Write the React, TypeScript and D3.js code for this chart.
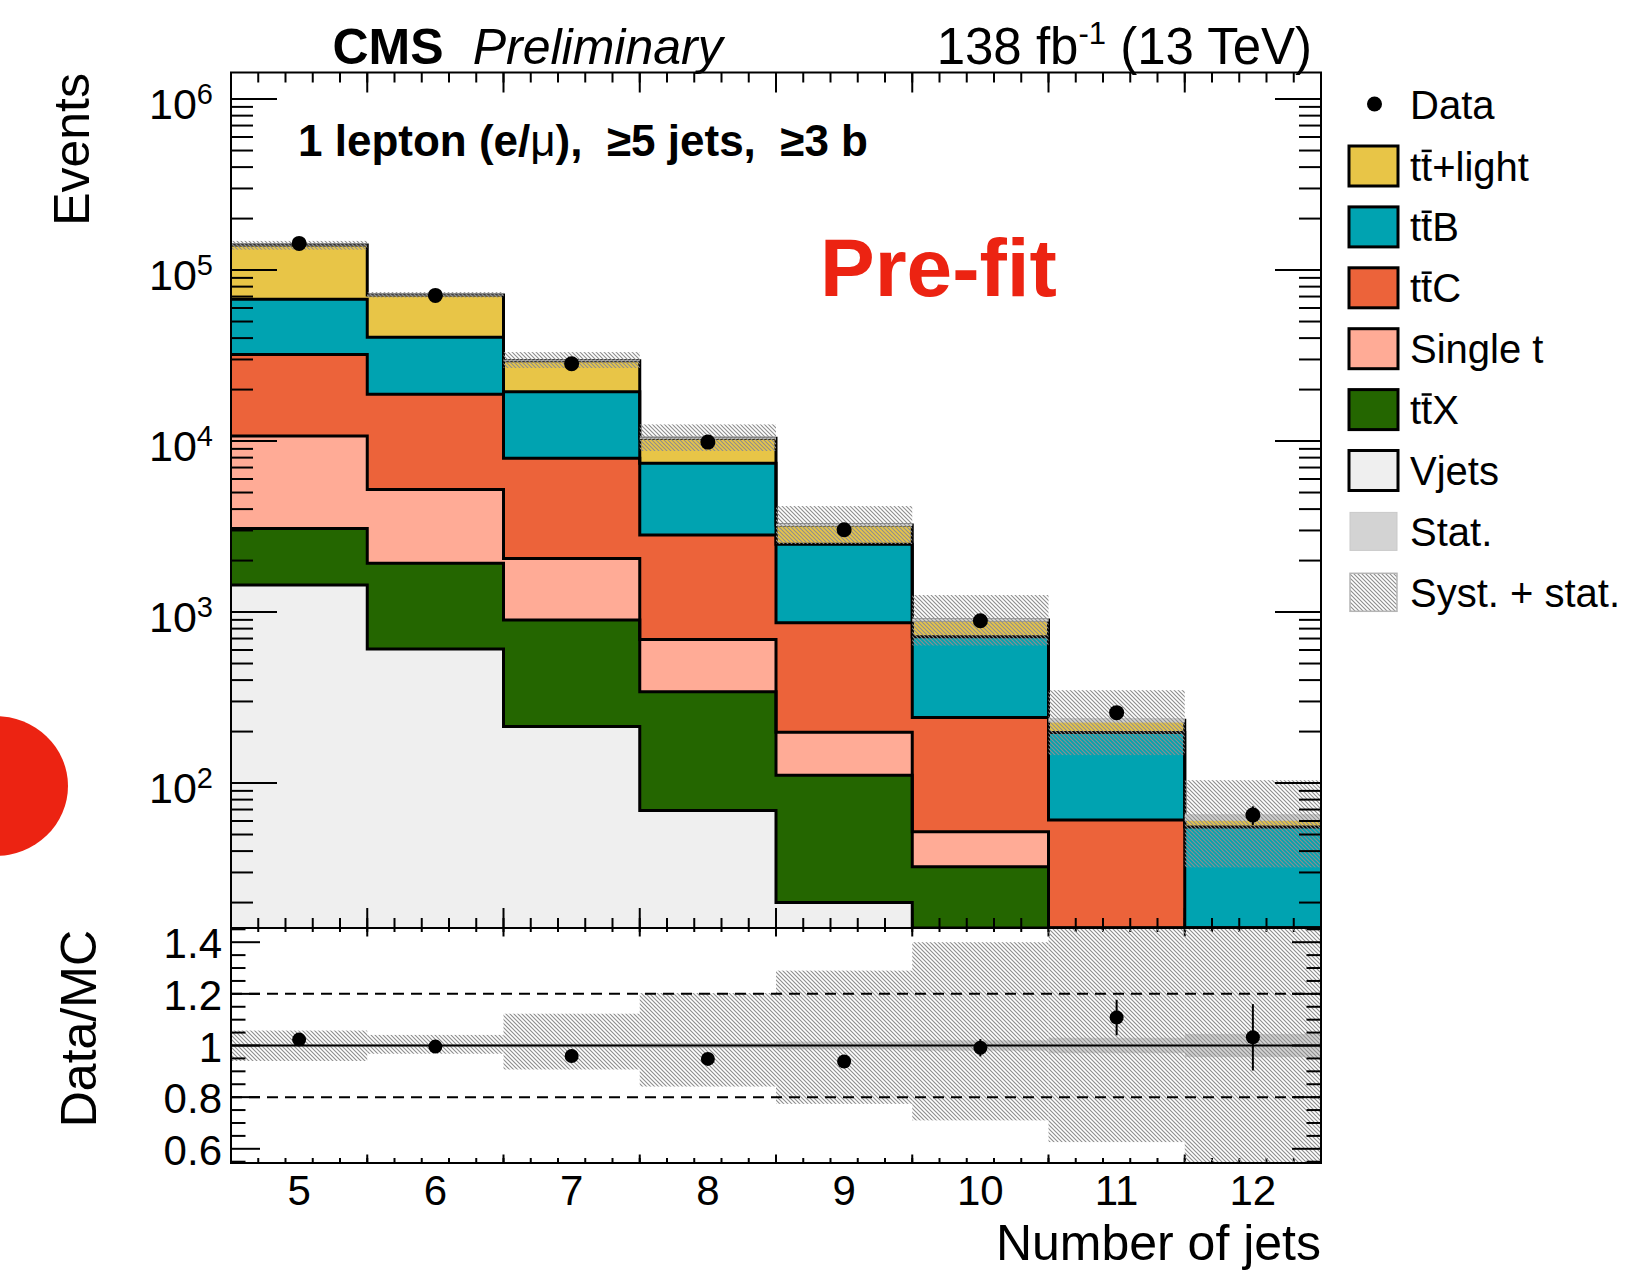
import React from 'react';
import * as d3 from 'd3';

// ---- Histogram content (events per jet-multiplicity bin) ----
const binCenters = [5, 6, 7, 8, 9, 10, 11, 12];
const xTickLabels = ['5', '6', '7', '8', '9', '10', '11', '12'];

// stacked backgrounds, listed bottom to top
const vjets = [1440, 608, 214, 69, 20, 4, 1, 0.5];
const ttX = [1640, 1322, 684, 273, 91, 28.4, 6, 3];
const singleT = [7620, 3280, 1162, 350, 87, 19.5, 3, 1];
const ttC = [21400, 13590, 5870, 2128, 668, 190, 50.8, 6];
const ttB = [35500, 21600, 11470, 4590, 1624, 476, 137, 44.9];
const ttLight = [72400, 31000, 10100, 2990, 740, 180, 35, 7.6];

// observed data with its uncertainty
const dataCounts = [143200, 71100, 28300, 9860, 3030, 890, 258, 65];
const dataErrors = [378, 267, 168, 99, 55, 30, 16, 8.1];

// relative uncertainties on the total prediction
const systUp = [0.058, 0.041, 0.123, 0.203, 0.29, 0.4, 0.5, 0.65];
const systDown = [0.06, 0.032, 0.093, 0.159, 0.226, 0.29, 0.374, 0.49];
const statRel = [0.004, 0.005, 0.007, 0.01, 0.015, 0.02, 0.03, 0.045];

const yExponents = [2, 3, 4, 5, 6];
const ratioTickValues = [0.6, 0.8, 1, 1.2, 1.4];
const ratioTickLabels = ['0.6', '0.8', '1', '1.2', '1.4'];

const FONT = '"Liberation Sans", Arial, Helvetica, sans-serif';
const NB = '\u00a0';

const layers = [
  { name: 'Vjets', values: vjets, color: '#efefef' },
  { name: 'ttX', values: ttX, color: '#246600' },
  { name: 'Single t', values: singleT, color: '#ffab96' },
  { name: 'ttC', values: ttC, color: '#ec633a' },
  { name: 'ttB', values: ttB, color: '#00a3b1' },
  { name: 'ttLight', values: ttLight, color: '#e8c547' },
];

const legendRows = [
  { bar: true, rest: '+light', color: '#e8c547' },
  { bar: true, rest: 'B', color: '#00a3b1' },
  { bar: true, rest: 'C', color: '#ec633a' },
  { bar: false, rest: 'Single t', color: '#ffab96' },
  { bar: true, rest: 'X', color: '#246600' },
  { bar: false, rest: 'Vjets', color: '#efefef' },
];

const LEFT = 231;
const RIGHT = 1321;
const TOP = 72.5;
const MID = 928;
const BOTTOM = 1163;
const YMIN = 14.2;
const YMAX = 1.43e6;

type Pt = { x: number; lo: number; hi: number };

export default function App() {
  const x = d3.scaleLinear().domain([4.5, 12.5]).range([LEFT, RIGHT]);
  const y = d3.scaleLog().domain([YMIN, YMAX]).range([MID, TOP]).clamp(true);
  const r = d3.scaleLinear().domain([0.545, 1.455]).range([BOTTOM, MID]).clamp(true);

  // cumulative stack
  const cum: number[][] = [];
  layers.forEach((l, k) => {
    cum.push(l.values.map((v, i) => (k === 0 ? v : cum[k - 1][i] + v)));
  });
  const total = cum[cum.length - 1];

  const stepPts = (lo: number[] | null, hi: number[]): Pt[] =>
    binCenters.flatMap((c, i) => [
      { x: c - 0.5, lo: lo ? lo[i] : YMIN, hi: hi[i] },
      { x: c + 0.5, lo: lo ? lo[i] : YMIN, hi: hi[i] },
    ]);

  const area = d3
    .area<Pt>()
    .x((d) => x(d.x))
    .y0((d) => y(Math.max(d.lo, YMIN * 0.5)))
    .y1((d) => y(Math.max(d.hi, YMIN * 0.5)));
  const line = d3
    .line<Pt>()
    .x((d) => x(d.x))
    .y((d) => y(Math.max(d.hi, YMIN * 0.5)));

  // log axis ticks
  const logTicks: { v: number; major: boolean }[] = [];
  for (let d = 1; d <= 6; d++) {
    for (let k = 1; k <= 9; k++) {
      const v = k * Math.pow(10, d);
      if (v >= YMIN && v <= YMAX) logTicks.push({ v, major: k === 1 });
    }
  }
  // x ticks: major on bin edges, minor every 0.2
  const xMinor: number[] = [];
  for (let i = 0; i <= 40; i++) xMinor.push(4.5 + i * 0.2);
  const xMajor = d3.range(4.5, 12.6, 1);
  // ratio ticks every 0.05
  const rTicks: { v: number; major: boolean }[] = [];
  for (let k = 11; k <= 29; k++) rTicks.push({ v: k * 0.05, major: k % 4 === 0 });

  const bw = x(5.5) - x(4.5);
  const fsLeg = 40;

  return (
    <svg
      width={1629}
      height={1272}
      style={{ position: 'absolute', left: 0, top: 0, background: '#fff' }}
      fontFamily={FONT}
    >
      <defs>
        <pattern id="hatchPattern" patternUnits="userSpaceOnUse" width={4} height={4}>
          <path d="M-1,-1 L5,5 M-1,3 L1,5 M3,-1 L5,1" stroke="#8e8e8e" strokeWidth={1.15} />
        </pattern>
        <clipPath id="mainClip">
          <rect x={LEFT} y={TOP} width={RIGHT - LEFT} height={MID - TOP} />
        </clipPath>
        <clipPath id="ratioClip">
          <rect x={LEFT} y={MID} width={RIGHT - LEFT} height={BOTTOM - MID} />
        </clipPath>
      </defs>
      <rect x={0} y={0} width={1629} height={1272} fill="#fff" />

      {/* ---------- main panel ---------- */}
      <g clipPath="url(#mainClip)">
        {layers.map((l, k) => (
          <path key={l.name} d={area(stepPts(k === 0 ? null : cum[k - 1], cum[k])) || ''} fill={l.color} />
        ))}
        {layers.map((l, k) => (
          <path key={'ln' + l.name} d={line(stepPts(null, cum[k])) || ''} fill="none" stroke="#000" strokeWidth={3} />
        ))}
        {binCenters.map((c, i) => (
          <rect
            key={'st' + c}
            x={x(c - 0.5)}
            width={bw}
            y={y(total[i] * (1 + statRel[i]))}
            height={y(total[i] * (1 - statRel[i])) - y(total[i] * (1 + statRel[i]))}
            fill="#d3d3d3"
          />
        ))}
        {binCenters.map((c, i) => (
          <rect
            key={'sy' + c}
            x={x(c - 0.5)}
            width={bw}
            y={y(total[i] * (1 + systUp[i]))}
            height={y(total[i] * (1 - systDown[i])) - y(total[i] * (1 + systUp[i]))}
            fill="url(#hatchPattern)"
          />
        ))}
        {binCenters.map((c, i) => (
          <g key={'d' + c}>
            <line
              x1={x(c)}
              x2={x(c)}
              y1={y(dataCounts[i] - dataErrors[i])}
              y2={y(dataCounts[i] + dataErrors[i])}
              stroke="#000"
              strokeWidth={2}
            />
            <circle cx={x(c)} cy={y(dataCounts[i])} r={7.5} fill="#000" />
          </g>
        ))}
      </g>

      {/* main panel axes */}
      <g stroke="#000">
        {logTicks.map((t) => (
          <g key={'lt' + t.v}>
            <line x1={LEFT} x2={LEFT + (t.major ? 46 : 22)} y1={y(t.v)} y2={y(t.v)} strokeWidth={2} />
            <line x1={RIGHT} x2={RIGHT - (t.major ? 46 : 22)} y1={y(t.v)} y2={y(t.v)} strokeWidth={2} />
          </g>
        ))}
        {xMinor.map((v) => (
          <g key={'xm' + v}>
            <line x1={x(v)} x2={x(v)} y1={TOP} y2={TOP + 10} strokeWidth={2} />
            <line x1={x(v)} x2={x(v)} y1={MID} y2={MID - 10} strokeWidth={2} />
            <line x1={x(v)} x2={x(v)} y1={MID} y2={MID + 4} strokeWidth={2} />
            <line x1={x(v)} x2={x(v)} y1={BOTTOM} y2={BOTTOM - 5} strokeWidth={2} />
          </g>
        ))}
        {xMajor.map((v) => (
          <g key={'xM' + v}>
            <line x1={x(v)} x2={x(v)} y1={TOP} y2={TOP + 20} strokeWidth={2} />
            <line x1={x(v)} x2={x(v)} y1={MID} y2={MID - 20} strokeWidth={2} />
            <line x1={x(v)} x2={x(v)} y1={MID} y2={MID + 8.5} strokeWidth={2} />
            <line x1={x(v)} x2={x(v)} y1={BOTTOM} y2={BOTTOM - 8.5} strokeWidth={2} />
          </g>
        ))}
        <rect x={LEFT} y={TOP} width={RIGHT - LEFT} height={MID - TOP} fill="none" strokeWidth={2} />
      </g>
      {yExponents.map((e) => (
        <text key={'yl' + e} x={213} y={y(Math.pow(10, e)) + 20} textAnchor="end" fontSize={43}>
          10
          <tspan dy={-15} fontSize={29}>
            {e}
          </tspan>
        </text>
      ))}

      {/* ---------- ratio panel ---------- */}
      <g clipPath="url(#ratioClip)">
        {binCenters.map((c, i) => (
          <rect
            key={'rst' + c}
            x={x(c - 0.5)}
            width={bw}
            y={r(1 + statRel[i])}
            height={r(1 - statRel[i]) - r(1 + statRel[i])}
            fill="#d3d3d3"
          />
        ))}
        {binCenters.map((c, i) => (
          <rect
            key={'rsy' + c}
            x={x(c - 0.5)}
            width={bw}
            y={r(1 + systUp[i])}
            height={r(1 - systDown[i]) - r(1 + systUp[i])}
            fill="url(#hatchPattern)"
          />
        ))}
      </g>
      <line x1={LEFT} x2={RIGHT} y1={r(1.2)} y2={r(1.2)} stroke="#000" strokeWidth={2} strokeDasharray="11,7" />
      <line x1={LEFT} x2={RIGHT} y1={r(0.8)} y2={r(0.8)} stroke="#000" strokeWidth={2} strokeDasharray="11,7" />
      <line x1={LEFT} x2={RIGHT} y1={r(1)} y2={r(1)} stroke="#000" strokeWidth={2} />
      {binCenters.map((c, i) => {
        const ratio = dataCounts[i] / total[i];
        const err = dataErrors[i] / total[i];
        return (
          <g key={'rp' + c}>
            <line x1={x(c)} x2={x(c)} y1={r(ratio - err)} y2={r(ratio + err)} stroke="#000" strokeWidth={2} />
            <circle cx={x(c)} cy={r(ratio)} r={7} fill="#000" />
          </g>
        );
      })}
      <g stroke="#000">
        {rTicks.map((t) => (
          <g key={'rt' + t.v}>
            <line x1={LEFT} x2={LEFT + (t.major ? 29 : 14.5)} y1={r(t.v)} y2={r(t.v)} strokeWidth={2} />
            <line x1={RIGHT} x2={RIGHT - (t.major ? 29 : 14.5)} y1={r(t.v)} y2={r(t.v)} strokeWidth={2} />
          </g>
        ))}
        <rect x={LEFT} y={MID} width={RIGHT - LEFT} height={BOTTOM - MID} fill="none" strokeWidth={2} />
      </g>
      {ratioTickValues.map((v, i) => (
        <text key={'rl' + v} x={222} y={r(v) + 16} textAnchor="end" fontSize={42}>
          {ratioTickLabels[i]}
        </text>
      ))}
      {binCenters.map((c, i) => (
        <text key={'xl' + c} x={x(c)} y={1205} textAnchor="middle" fontSize={42}>
          {xTickLabels[i]}
        </text>
      ))}

      {/* ---------- titles ---------- */}
      <text x={RIGHT} y={1260} textAnchor="end" fontSize={50}>
        Number of jets
      </text>
      <text transform="translate(89,73) rotate(-90)" textAnchor="end" fontSize={50}>
        Events
      </text>
      <text transform="translate(96,930) rotate(-90)" textAnchor="end" fontSize={50}>
        Data/MC
      </text>
      <text x={332.5} y={64} fontSize={50} fontWeight="bold">
        CMS
      </text>
      <text x={472.7} y={64} fontSize={50} fontStyle="italic">
        Preliminary
      </text>
      <text x={1312} y={64} fontSize={51} textAnchor="end">
        138 fb
        <tspan dy={-20} fontSize={31}>
          -1
        </tspan>
        <tspan dy={20} fontSize={51}>
          {' (13 TeV)'}
        </tspan>
      </text>
      <text x={298} y={156} fontSize={44} fontWeight="bold">
        {'1 lepton (e/'}
        <tspan fontWeight="normal">μ</tspan>
        {'),' + NB + NB + '≥5 jets,' + NB + NB + '≥3 b'}
      </text>
      <text x={820} y={296} fontSize={82} fontWeight="bold" fill="#ec2312">
        Pre-fit
      </text>
      <ellipse cx={-5} cy={786} rx={73} ry={70} fill="#ec2312" />

      {/* ---------- legend ---------- */}
      <circle cx={1374.5} cy={104} r={7.5} fill="#000" />
      <text x={1410} y={118.5} fontSize={fsLeg}>
        Data
      </text>
      {legendRows.map((row, i) => {
        const cy = 166 + i * 60.9;
        return (
          <g key={'lg' + i}>
            <rect x={1349} y={cy - 20} width={49} height={40} fill={row.color} stroke="#000" strokeWidth={3} />
            <text x={1410} y={cy + 14.5} fontSize={fsLeg}>
              {row.bar ? 'tt' + row.rest : row.rest}
            </text>
            {row.bar && (
              <line
                x1={1410 + 0.278 * fsLeg + 0.5}
                x2={1410 + 0.556 * fsLeg - 0.5}
                y1={cy + 14.5 - 0.74 * fsLeg}
                y2={cy + 14.5 - 0.74 * fsLeg}
                stroke="#000"
                strokeWidth={2.5}
              />
            )}
          </g>
        );
      })}
      {(() => {
        const cyS = 166 + 6 * 60.9;
        const cyH = 166 + 7 * 60.9;
        return (
          <g>
            <rect x={1350} y={cyS - 19} width={47} height={38} fill="#d3d3d3" stroke="#c9c9c9" strokeWidth={1} />
            <text x={1410} y={cyS + 14.5} fontSize={fsLeg}>
              Stat.
            </text>
            <rect x={1350} y={cyH - 19} width={47} height={38} fill="url(#hatchPattern)" stroke="#b5b5b5" strokeWidth={1.5} />
            <text x={1410} y={cyH + 14.5} fontSize={fsLeg}>
              Syst. + stat.
            </text>
          </g>
        );
      })()}
    </svg>
  );
}
